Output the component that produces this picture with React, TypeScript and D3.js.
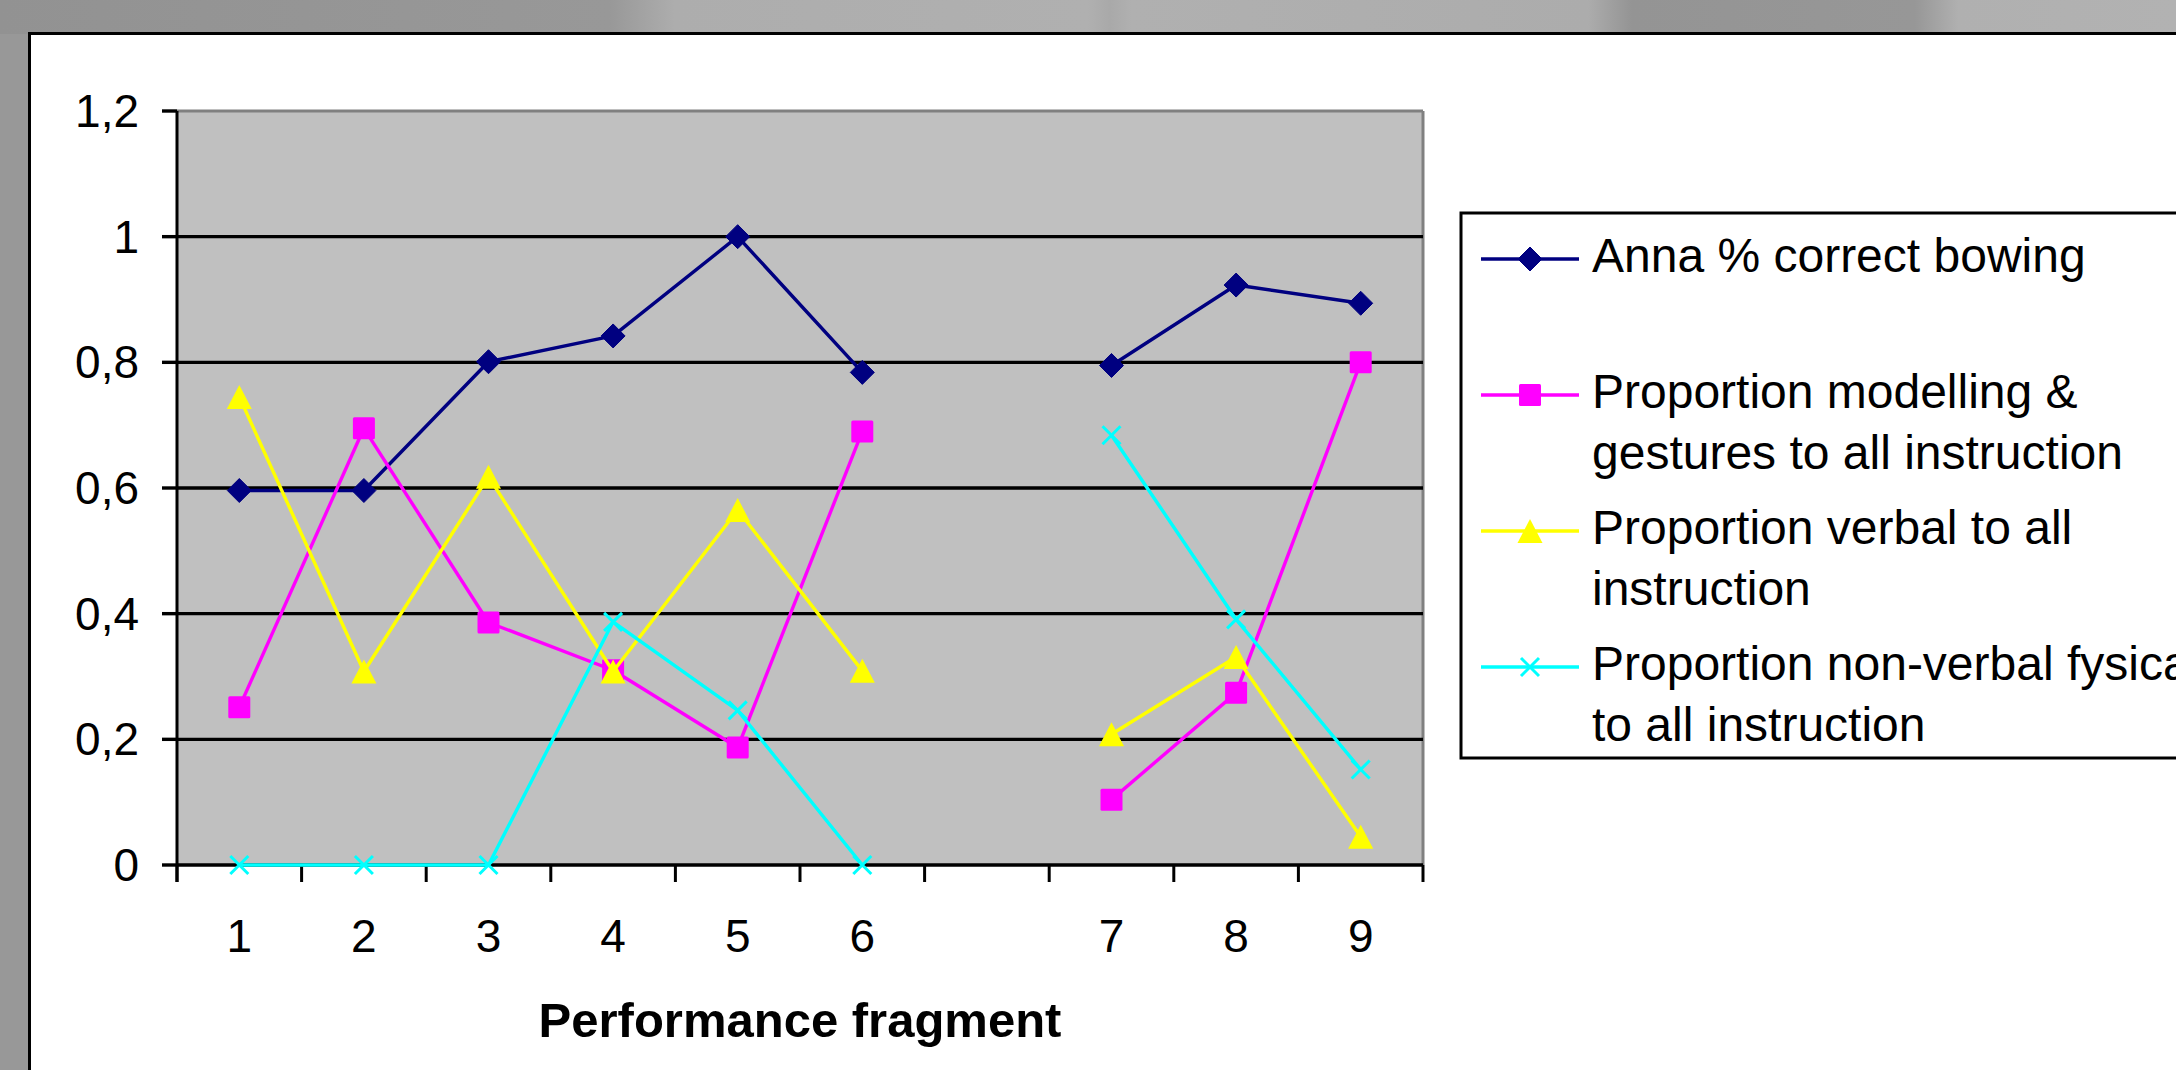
import React from "react";
import * as d3 from "d3";

const categories = ["1", "2", "3", "4", "5", "6", "", "7", "8", "9"];
const annaCorrect = [0.596, 0.596, 0.801, 0.842, 1.0, 0.784, null, 0.795, 0.923, 0.894];
const modelling = [0.251, 0.695, 0.386, 0.31, 0.187, 0.69, null, 0.104, 0.274, 0.8];
const verbal = [0.745, 0.308, 0.618, 0.308, 0.565, 0.309, null, 0.208, 0.331, 0.045];
const nonVerbal = [0, 0, 0, 0.387, 0.246, 0, null, 0.684, 0.391, 0.152];
const yTicks = [0, 0.2, 0.4, 0.6, 0.8, 1, 1.2];
const legendLabels = [
  ["Anna % correct bowing"],
  ["Proportion modelling &", "gestures to all instruction"],
  ["Proportion verbal to all", "instruction"],
  ["Proportion non-verbal fysical", "to all instruction"],
];
const xTitle = "Performance fragment";

const seriesList = [
  { values: annaCorrect, color: "#000080", marker: "diamond" },
  { values: modelling, color: "#FF00FF", marker: "square" },
  { values: verbal, color: "#FFFF00", marker: "triangle" },
  { values: nonVerbal, color: "#00FFFF", marker: "x" },
];

const W = 2176;
const H = 1070;
const FONT = "'Liberation Sans', Arial, sans-serif";

const plot = { left: 177, right: 1423, top: 111, bottom: 865 };

const commaLocale = d3.formatLocale({
  decimal: ",",
  thousands: ".",
  grouping: [3],
  currency: ["", ""],
});
const fmt = commaLocale.format(".1~f");

function Marker({ type, x, y, color }: { type: string; x: number; y: number; color: string }) {
  if (type === "diamond") {
    const r = 12;
    return (
      <path
        d={`M${x},${y - r}L${x + r},${y}L${x},${y + r}L${x - r},${y}Z`}
        fill={color}
        stroke={color}
        strokeWidth={1}
        strokeLinejoin="round"
      />
    );
  }
  if (type === "square") {
    const r = 11;
    return <rect x={x - r} y={y - r} width={2 * r} height={2 * r} rx={1.5} fill={color} />;
  }
  if (type === "triangle") {
    const h = 12;
    const w = 12.5;
    return <path d={`M${x},${y - h}L${x + w},${y + h}L${x - w},${y + h}Z`} fill={color} />;
  }
  const r = 9;
  return (
    <path
      d={`M${x - r},${y - r}L${x + r},${y + r}M${x - r},${y + r}L${x + r},${y - r}`}
      stroke={color}
      strokeWidth={3}
      fill="none"
    />
  );
}

export default function App() {
  const idx = d3.range(categories.length).map(String);
  const x = d3.scaleBand<string>().domain(idx).range([plot.left, plot.right]).padding(0);
  const y = d3.scaleLinear().domain([0, 1.2]).range([plot.bottom, plot.top]);
  const cx = (i: number) => (x(String(i)) as number) + x.bandwidth() / 2;

  const lineGen = d3
    .line<number | null>()
    .defined((d) => d !== null)
    .x((_, i) => cx(i))
    .y((d) => y(d as number));

  const boundaries = d3.range(categories.length + 1).map((i) =>
    i < categories.length ? (x(String(i)) as number) : plot.right
  );

  const legendX = 1461;
  const legendTop = 213;
  const legendBottom = 758;
  const legendLineX0 = 1481;
  const legendLineX1 = 1579;
  const legendTextX = 1592;
  const legendRowY = (i: number) => 259 + i * 136;

  return (
    <svg
      width={W}
      height={H}
      viewBox={`0 0 ${W} ${H}`}
      style={{ position: "absolute", left: 0, top: 0, display: "block" }}
      fontFamily={FONT}
    >
      <defs>
        <linearGradient id="topBand" x1="0" x2="1" y1="0" y2="0">
          <stop offset="0" stopColor="#929292" />
          <stop offset="0.28" stopColor="#989898" />
          <stop offset="0.31" stopColor="#adadad" />
          <stop offset="0.5" stopColor="#b0b0b0" />
          <stop offset="0.51" stopColor="#a9a9a9" />
          <stop offset="0.52" stopColor="#b0b0b0" />
          <stop offset="0.73" stopColor="#acacac" />
          <stop offset="0.75" stopColor="#949494" />
          <stop offset="0.88" stopColor="#979797" />
          <stop offset="0.9" stopColor="#b0b0b0" />
          <stop offset="1" stopColor="#b2b2b2" />
        </linearGradient>
      </defs>
      <rect x={0} y={0} width={W} height={H} fill="#989898" />
      <rect x={0} y={0} width={W} height={34} fill="url(#topBand)" />
      <rect x={29.5} y={33.5} width={W + 20} height={H + 20} fill="#ffffff" stroke="#000000" strokeWidth={3} />

      {/* plot area */}
      <rect
        x={plot.left}
        y={plot.top}
        width={plot.right - plot.left}
        height={plot.bottom - plot.top}
        fill="#C0C0C0"
      />
      <line x1={plot.left} x2={plot.right} y1={plot.top} y2={plot.top} stroke="#808080" strokeWidth={3} />
      <line x1={plot.right} x2={plot.right} y1={plot.top} y2={plot.bottom} stroke="#808080" strokeWidth={3} />

      {yTicks.slice(1, -1).map((t) => (
        <line key={"g" + t} x1={plot.left} x2={plot.right} y1={y(t)} y2={y(t)} stroke="#000" strokeWidth={3.4} />
      ))}

      {/* y axis */}
      <line x1={plot.left} x2={plot.left} y1={plot.top} y2={plot.bottom + 17} stroke="#000" strokeWidth={3} />
      {yTicks.map((t) => (
        <g key={"yt" + t}>
          <line x1={plot.left - 15} x2={plot.left} y1={y(t)} y2={y(t)} stroke="#000" strokeWidth={3.4} />
          <text x={139} y={y(t) + 16} textAnchor="end" fontSize={46} fill="#000">
            {fmt(t)}
          </text>
        </g>
      ))}

      {/* x axis */}
      <line x1={plot.left} x2={plot.right} y1={plot.bottom} y2={plot.bottom} stroke="#000" strokeWidth={3.4} />
      {boundaries.map((b, i) => (
        <line key={"xt" + i} x1={b} x2={b} y1={plot.bottom} y2={plot.bottom + 17} stroke="#000" strokeWidth={3} />
      ))}
      {categories.map((c, i) => (
        <text key={"xl" + i} x={cx(i)} y={952} textAnchor="middle" fontSize={46} fill="#000">
          {c}
        </text>
      ))}
      <text
        x={(plot.left + plot.right) / 2}
        y={1037}
        textAnchor="middle"
        fontSize={49}
        fontWeight="bold"
        fill="#000"
      >
        {xTitle}
      </text>

      {/* series */}
      {seriesList.map((s, si) => (
        <g key={"s" + si}>
          <path d={lineGen(s.values) || ""} fill="none" stroke={s.color} strokeWidth={3.4} strokeLinejoin="round" />
          {s.values.map((v, i) =>
            v === null ? null : <Marker key={i} type={s.marker} x={cx(i)} y={y(v)} color={s.color} />
          )}
        </g>
      ))}

      {/* legend */}
      <rect
        x={legendX}
        y={legendTop}
        width={W}
        height={legendBottom - legendTop}
        fill="#ffffff"
        stroke="#000"
        strokeWidth={3}
      />
      {seriesList.map((s, i) => {
        const ly = legendRowY(i);
        return (
          <g key={"lg" + i}>
            <line x1={legendLineX0} x2={legendLineX1} y1={ly} y2={ly} stroke={s.color} strokeWidth={3.4} />
            <Marker type={s.marker} x={(legendLineX0 + legendLineX1) / 2} y={ly} color={s.color} />
            {legendLabels[i].map((t, j) => (
              <text key={j} x={legendTextX} y={ly + 13 + j * 61} fontSize={48} fill="#000">
                {t}
              </text>
            ))}
          </g>
        );
      })}
    </svg>
  );
}
